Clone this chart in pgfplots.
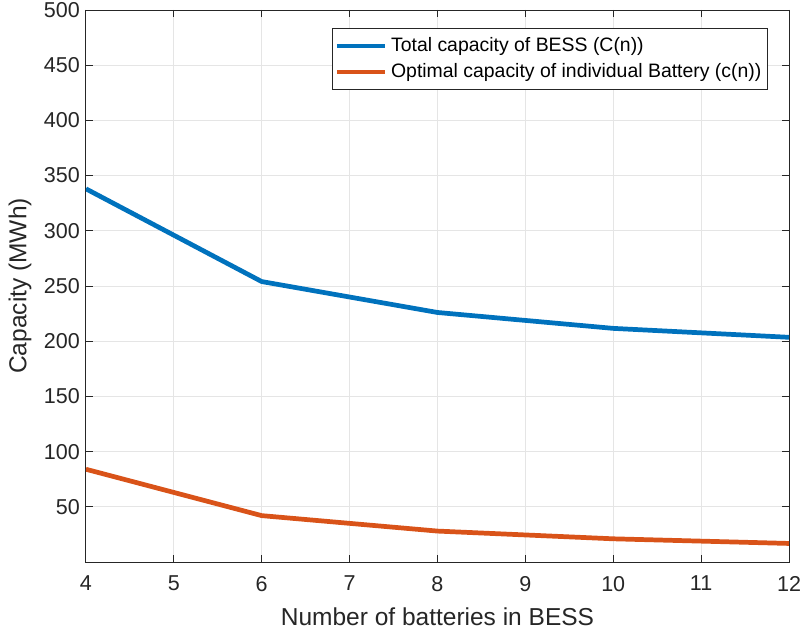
\documentclass[border=0pt]{standalone}
\usepackage{pgfplots}
\pgfplotsset{compat=1.18}
\usepackage{fontspec}
\setmainfont{Liberation Sans}
\definecolor{mblue}{RGB}{0,114,189}
\definecolor{morange}{RGB}{217,83,25}
\definecolor{axgray}{RGB}{38,38,38}
\begin{document}
\begin{tikzpicture}
\begin{axis}[
  name=ax,
  scale only axis,
  width=401.7pt, height=315.4pt,
  xmin=4, xmax=12, ymin=0, ymax=500,
  xtick={4,5,...,12},
  ytick={50,100,...,500},
  grid=major,
  major grid style={draw=black!10, line width=0.5pt},
  axis line style={draw=axgray, line width=0.5pt},
  tick style={draw=axgray, line width=0.5pt},
  tick align=inside,
  major tick length=4pt,
  tick label style={font=\fontsize{12.3}{14}\selectfont, text=axgray},
  xticklabel style={yshift=-4.5pt},
  /pgf/number format/assume math mode=true,
  xlabel={Number of batteries in BESS},
  ylabel={Capacity (MWh)},
  label style={font=\fontsize{14}{16}\selectfont, text=axgray},
  xlabel style={at={(axis description cs:0.5,-0.0995)}, anchor=center},
  ylabel style={at={(axis description cs:-0.0939,0.5)}, anchor=center},
  legend style={at={(rel axis cs:1,1)}, anchor=north east, xshift=-12pt, yshift=-10.5pt,
    draw=axgray, line width=0.5pt, font=\fontsize{11.1}{13}\selectfont,
    inner xsep=1.5pt, inner ysep=3pt, row sep=1.3pt, cells={anchor=west}},
  legend image code/.code={\draw[#1, line width=2.7pt] (0pt,0pt) -- (27.6pt,0pt);},
]
\addplot[mblue, line width=2.7pt] coordinates {(4,338) (6,254) (8,226) (10,211.6) (12,203.5)};
\addlegendentry{Total capacity of BESS (C(n))}
\addplot[morange, line width=2.7pt] coordinates {(4,84) (6,42) (8,28) (10,21) (12,16.8)};
\addlegendentry{Optimal capacity of individual Battery (c(n))}
\end{axis}
\pgfresetboundingbox
\path[use as bounding box] ([xshift=-49.1pt,yshift=-42.3pt]ax.south west) rectangle ([xshift=8pt,yshift=5.7pt]ax.north east);
\end{tikzpicture}
\end{document}
